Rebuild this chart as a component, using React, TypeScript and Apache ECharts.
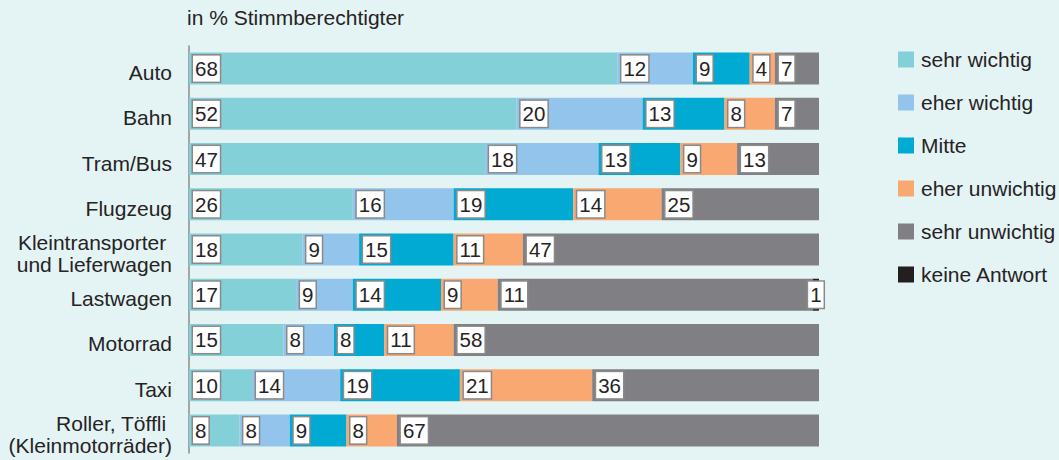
import React, { useEffect, useRef } from "react";
import * as echarts from "echarts";

const categories = [
  "Auto",
  "Bahn",
  "Tram/Bus",
  "Flugzeug",
  "Kleintransporter \nund Lieferwagen",
  "Lastwagen",
  "Motorrad",
  "Taxi",
  "Roller, Töffli \n(Kleinmotorräder)",
];

const seriesNames = [
  "sehr wichtig",
  "eher wichtig",
  "Mitte",
  "eher unwichtig",
  "sehr unwichtig",
  "keine Antwort",
];

const sehrWichtig = [68, 52, 47, 26, 18, 17, 15, 10, 8];
const eherWichtig = [12, 20, 18, 16, 9, 9, 8, 14, 8];
const mitte = [9, 13, 13, 19, 15, 14, 8, 19, 9];
const eherUnwichtig = [4, 8, 9, 14, 11, 9, 11, 21, 8];
const sehrUnwichtig = [7, 7, 13, 25, 47, 50, 58, 36, 67];
const keineAntwort = [0, 0, 0, 0, 0, 1, 0, 0, 0];

// numbers as printed in the boxes of the reference (Lastwagen shows "11")
const sehrUnwichtigPrinted = [7, 7, 13, 25, 47, 11, 58, 36, 67];

const colors = ["#84d0d9", "#93c5ec", "#00aad2", "#f8a870", "#808084", "#231f20"];

const FONT = "'Liberation Sans', Arial, Helvetica, sans-serif";
const TEXT = "#262324";

export default function App() {
  const ref = useRef<HTMLDivElement>(null);

  useEffect(() => {
    if (!ref.current) return;
    const chart = echarts.init(ref.current, undefined, { renderer: "svg" });

    const allValues = [sehrWichtig, eherWichtig, mitte, eherUnwichtig, sehrUnwichtig, keineAntwort];

    const boxLabel = {
      show: true,
      position: "insideLeft",
      distance: 4,
      color: TEXT,
      fontFamily: FONT,
      fontSize: 20.5,
      lineHeight: 20,
      backgroundColor: "#ffffff",
      borderColor: "#8a8a8a",
      borderWidth: 1.5,
      padding: [3, 2, 3, 2],
    };

    const series = allValues.map((vals, si) => ({
      name: seriesNames[si],
      type: "bar",
      stack: "total",
      barWidth: 32,
      xAxisIndex: 0,
      yAxisIndex: 0,
      itemStyle: { color: colors[si] },
      label: {
        ...boxLabel,
        position: si === 5 ? "inside" : "insideLeft",
        formatter: (p: any) =>
          si === 4 ? String(sehrUnwichtigPrinted[p.dataIndex]) : String(p.value),
      },
      data: vals.map((v) => (v === 0 ? { value: 0, label: { show: false } } : v)),
    }));

    chart.setOption({
      animation: false,
      backgroundColor: "#e4f4f4",
      title: {
        text: "in % Stimmberechtigter",
        left: 187,
        top: 7,
        padding: 0,
        textStyle: {
          fontFamily: FONT,
          fontSize: 21,
          lineHeight: 20,
          fontWeight: "normal",
          color: TEXT,
        },
      },
      legend: {
        orient: "vertical",
        left: 898,
        top: 49,
        itemWidth: 16,
        itemHeight: 16,
        itemGap: 22,
        icon: "rect",
        padding: 0,
        data: seriesNames,
        textStyle: {
          fontFamily: FONT,
          fontSize: 21,
          lineHeight: 20,
          color: TEXT,
          padding: [0, 0, 0, 2],
        },
      },
      grid: [
        { left: 189, right: 240, top: 46, bottom: 7, containLabel: false },
        { left: 189, right: 240, top: 50, bottom: 3, containLabel: false },
      ],
      xAxis: [
        { type: "value", min: 0, max: 100, show: false, gridIndex: 0 },
        { type: "value", min: 0, max: 100, show: false, gridIndex: 1 },
      ],
      yAxis: [
        {
          type: "category",
          inverse: true,
          gridIndex: 0,
          data: categories,
          axisLine: { show: true, lineStyle: { color: "#8c8c8c", width: 1.5 } },
          axisTick: { show: false },
          axisLabel: { show: false },
        },
        {
          type: "category",
          inverse: true,
          gridIndex: 1,
          data: categories,
          axisLine: { show: false },
          axisTick: { show: false },
          axisLabel: {
            margin: 17,
            fontFamily: FONT,
            fontSize: 21,
            lineHeight: 22,
            color: TEXT,
            align: "right",
          },
        },
      ],
      series,
    });

    return () => chart.dispose();
  }, []);

  return (
    <div
      ref={ref}
      style={{ position: "fixed", left: 0, top: 0, width: 1059, height: 460 }}
    />
  );
}
